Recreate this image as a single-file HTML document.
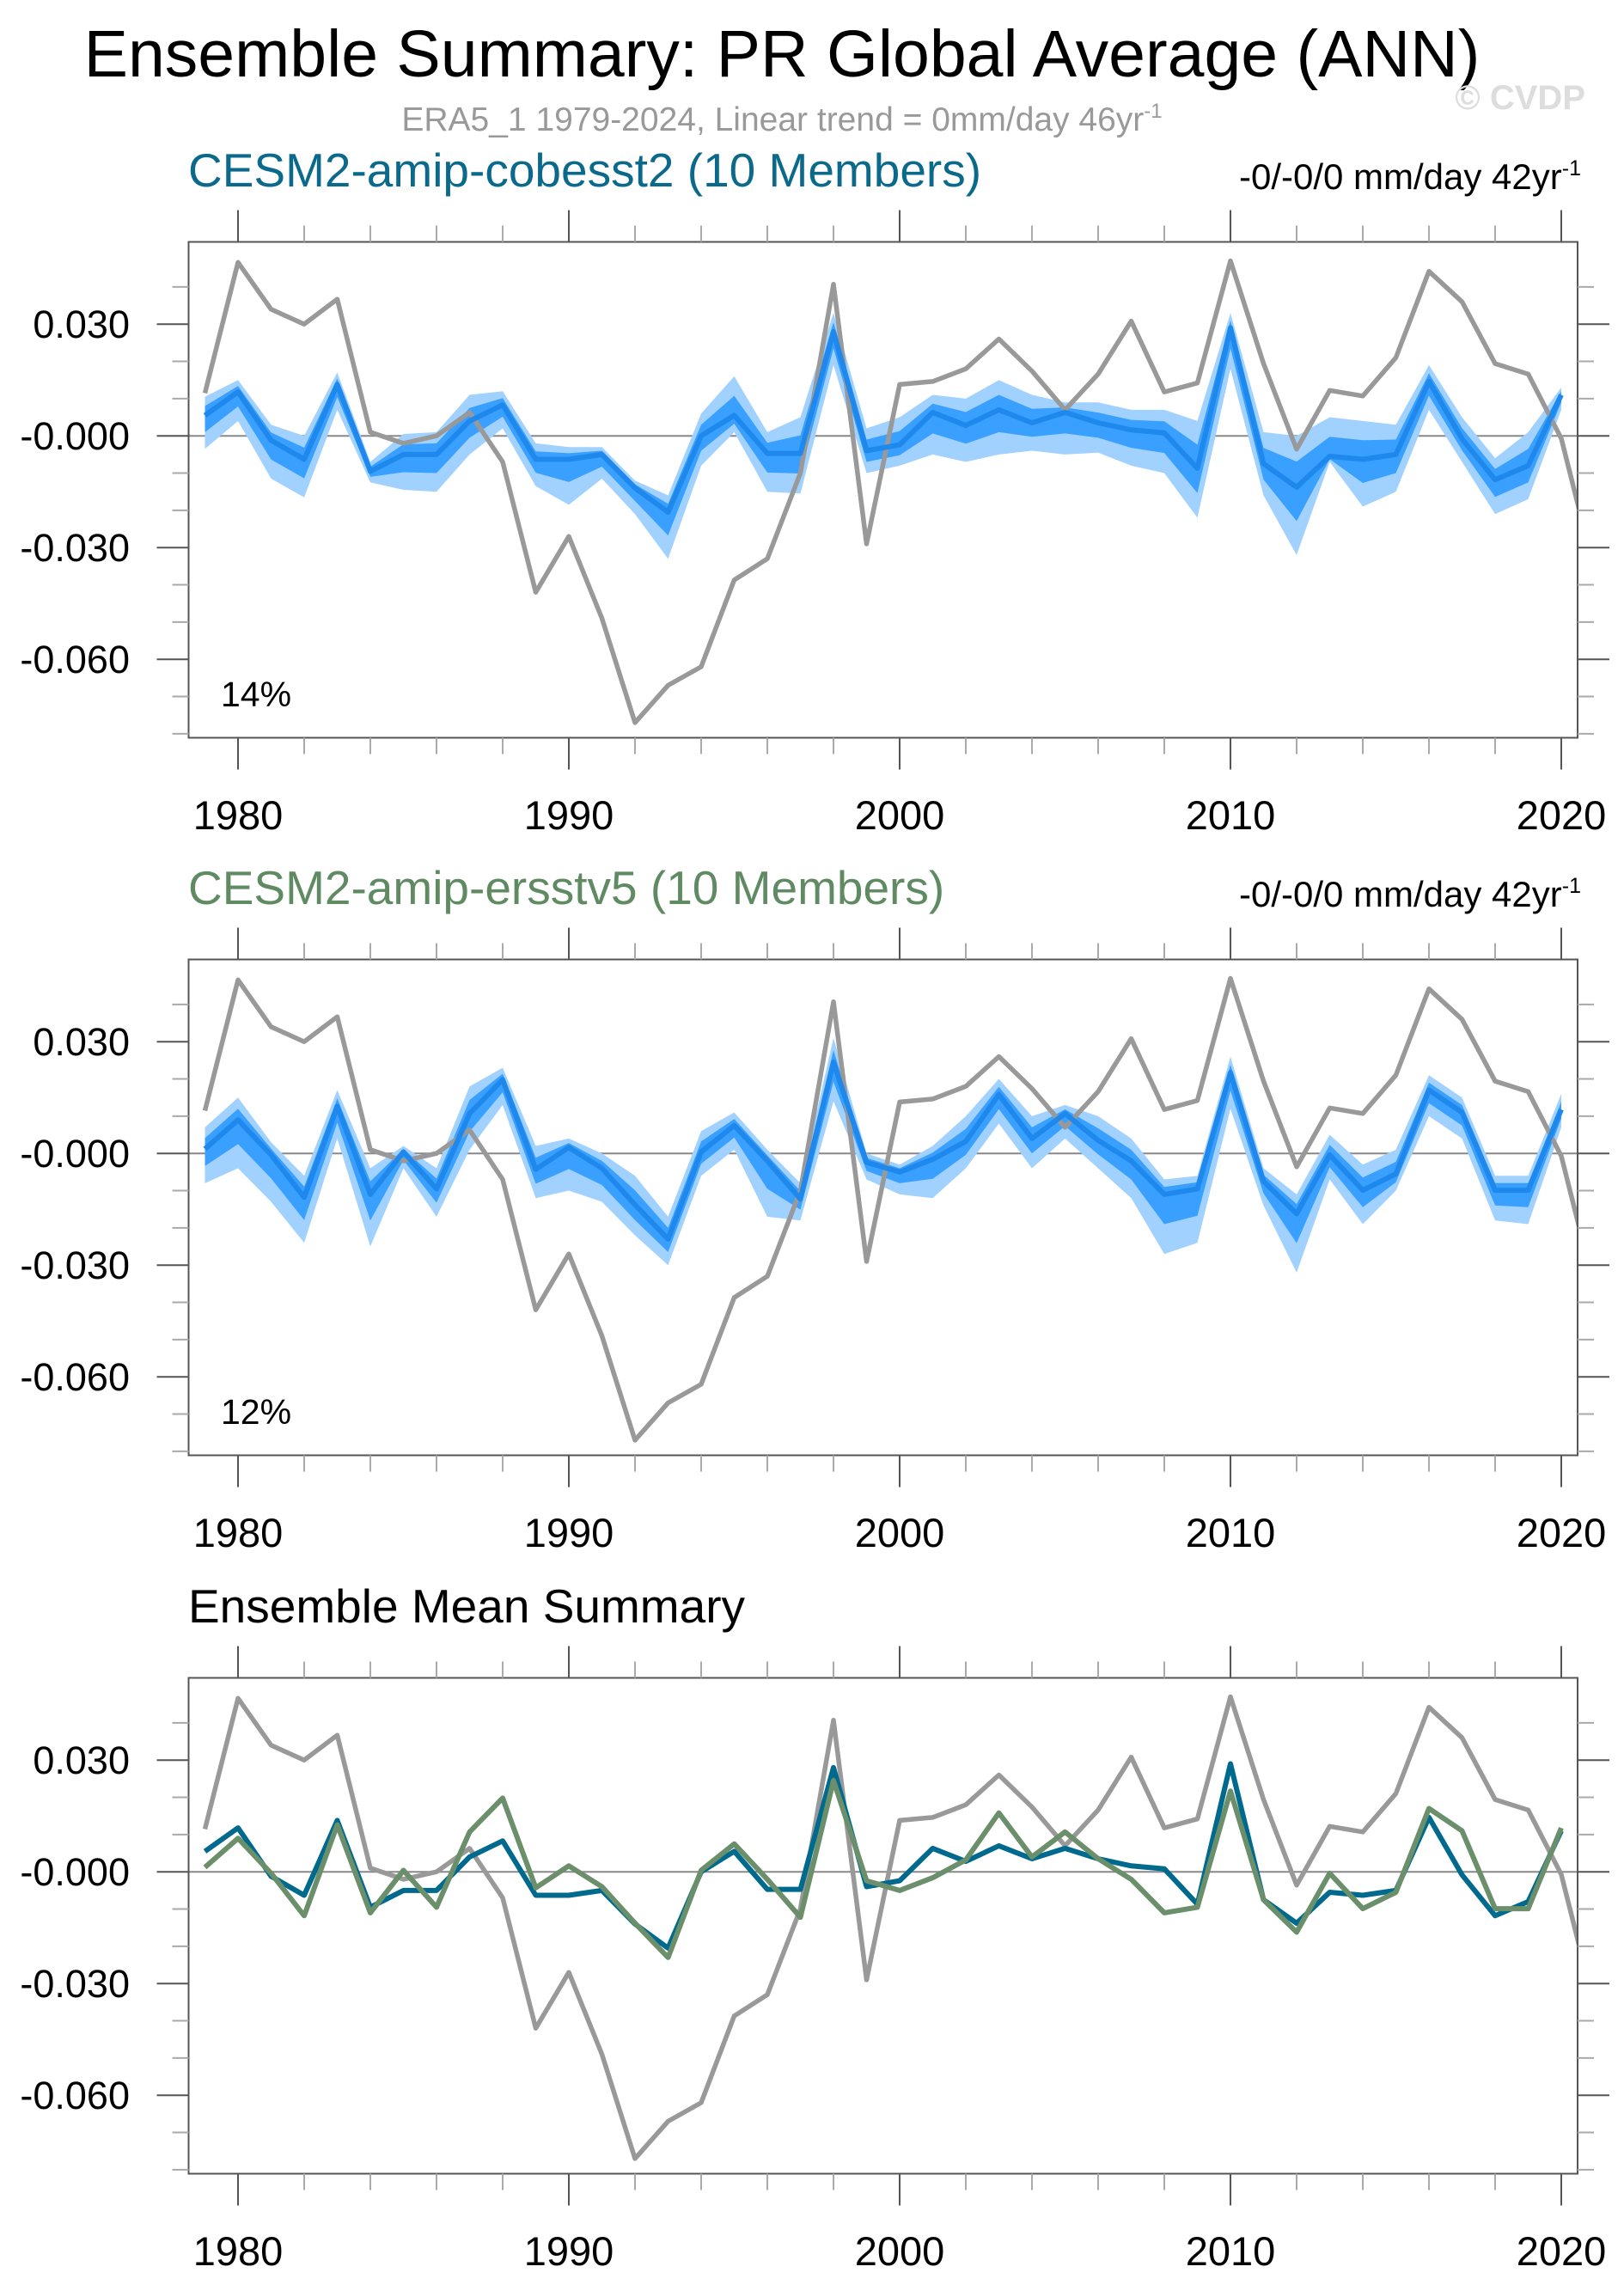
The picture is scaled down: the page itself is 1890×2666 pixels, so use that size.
<!DOCTYPE html>
<html><head><meta charset="utf-8">
<style>
html,body{margin:0;padding:0;background:#fff;}
svg{display:block;font-family:"Liberation Sans",sans-serif;}
</style></head>
<body>
<svg id="fig" width="1890" height="2666" viewBox="0 0 1890 2666" xmlns="http://www.w3.org/2000/svg">
<text x="910" y="89" font-size="77" text-anchor="middle" fill="#000">Ensemble Summary: PR Global Average (ANN)</text>
<text x="910" y="152" font-size="39" text-anchor="middle" fill="#999">ERA5_1 1979-2024, Linear trend = 0mm/day 46yr<tspan font-size="24" dy="-15">-1</tspan></text>
<text x="1845" y="127" font-size="40" font-weight="bold" text-anchor="end" fill="#ddd">© CVDP</text>
<g id="panels"></g>
</svg>
<script>
const years=[1979,1980,1981,1982,1983,1984,1985,1986,1987,1988,1989,1990,1991,1992,1993,1994,1995,1996,1997,1998,1999,2000,2001,2002,2003,2004,2005,2006,2007,2008,2009,2010,2011,2012,2013,2014,2015,2016,2017,2018,2019,2020];
const obsYears=[1979,1980,1981,1982,1983,1984,1985,1986,1987,1988,1989,1990,1991,1992,1993,1994,1995,1996,1997,1998,1999,2000,2001,2002,2003,2004,2005,2006,2007,2008,2009,2010,2011,2012,2013,2014,2015,2016,2017,2018,2019,2020,2021];
const obs=[0.0115,0.0466,0.034,0.030,0.0367,0.001,-0.002,0,0.0063,-0.007,-0.042,-0.027,-0.049,-0.077,-0.067,-0.062,-0.0387,-0.033,-0.010,0.0407,-0.029,0.0138,0.0146,0.018,0.026,0.0174,0.007,0.0166,0.0308,0.0118,0.0142,0.047,0.0194,-0.0036,0.0122,0.0107,0.021,0.0442,0.036,0.0194,0.0166,-0.0007,-0.036];
const meanA=[0.0055,0.0118,-0.0012,-0.0063,0.0138,-0.0095,-0.005,-0.005,0.004,0.0083,-0.0063,-0.0063,-0.005,-0.014,-0.0205,0,0.0055,-0.0047,-0.0047,0.028,-0.004,-0.0024,0.0063,0.0028,0.007,0.0035,0.0063,0.0035,0.0016,0.0008,-0.0087,0.029,-0.0075,-0.0138,-0.0055,-0.0063,-0.005,0.0146,-0.0008,-0.0118,-0.008,0.011];
const hiA=[0.0105,0.015,0.003,0,0.017,-0.007,0.0005,0.001,0.011,0.012,-0.002,-0.003,-0.003,-0.012,-0.016,0.006,0.016,0.001,0.005,0.033,0.002,0.005,0.011,0.010,0.015,0.011,0.009,0.009,0.007,0.007,0.004,0.033,0.001,0,0.005,0.004,0.003,0.019,0.005,-0.006,0.001,0.013];
const loA=[-0.0035,0.004,-0.0115,-0.0165,0.007,-0.0125,-0.0145,-0.015,-0.005,0.002,-0.0135,-0.0185,-0.0115,-0.021,-0.033,-0.008,0.001,-0.015,-0.0155,0.019,-0.010,-0.008,-0.005,-0.007,-0.005,-0.004,-0.005,-0.0045,-0.008,-0.010,-0.022,0.018,-0.016,-0.032,-0.007,-0.019,-0.015,0.007,-0.007,-0.021,-0.017,0.007];
const meanB=[0.0012,0.009,-0.0004,-0.0118,0.0126,-0.011,0.0004,-0.0095,0.0107,0.0198,-0.0043,0.0016,-0.004,-0.0138,-0.023,0.0004,0.0075,-0.002,-0.0122,0.0245,-0.0024,-0.005,-0.0016,0.0032,0.0158,0.004,0.0107,0.0035,-0.002,-0.011,-0.0095,0.0217,-0.0075,-0.0162,-0.0004,-0.0099,-0.0055,0.017,0.011,-0.0099,-0.0099,0.0118];
const hiB=[0.007,0.015,0.003,-0.006,0.017,-0.004,0.002,-0.004,0.018,0.023,0.002,0.004,0,-0.006,-0.017,0.006,0.011,0.001,-0.008,0.031,0,-0.003,0.002,0.010,0.020,0.010,0.013,0.010,0.004,-0.007,-0.006,0.026,-0.004,-0.011,0.005,-0.003,0.001,0.021,0.015,-0.006,-0.006,0.016];
const loB=[-0.008,-0.004,-0.013,-0.024,0.004,-0.025,-0.004,-0.017,0.001,0.013,-0.012,-0.010,-0.013,-0.022,-0.030,-0.006,0.001,-0.017,-0.018,0.014,-0.007,-0.011,-0.012,-0.004,0.008,-0.004,0.004,-0.004,-0.012,-0.027,-0.024,0.012,-0.014,-0.032,-0.007,-0.019,-0.010,0.010,0.004,-0.018,-0.019,0.007];
const yTickVals=[0.03,0,-0.03,-0.06];
const yTickLabels=["0.030","-0.000","-0.030","-0.060"];
const xTickVals=[1980,1990,2000,2010,2020];

const NS="http://www.w3.org/2000/svg";
const root=document.getElementById('panels');
const X0=219.5,X1=1836,Y0=281.5,Y1=858.5;
function xs(yr){return 238.5+(yr-1979)*38.5;}
function ysF(off){return v=>off+507.2-v/0.03*130;}
function mk(tag,attrs,parent){const e=document.createElementNS(NS,tag);for(const k in attrs)e.setAttribute(k,attrs[k]);parent.appendChild(e);return e;}
function pts(xv,yv,ys){return xv.map((x,i)=>xs(x).toFixed(1)+','+ys(yv[i]).toFixed(1)).join(' ');}
function band(lo,hi,ys){const a=years.map((x,i)=>xs(x).toFixed(1)+','+ys(hi[i]).toFixed(1));const b=years.map((x,i)=>xs(x).toFixed(1)+','+ys(lo[i]).toFixed(1)).reverse();return a.concat(b).join(' ');}

function panel(idx,off,title,titleColor,showRight,pct,series){
  const ys=ysF(off);
  const g=mk('g',{},root);
  
  
  const t=mk('text',{x:219,y:off+217,'font-size':55,fill:titleColor},g);t.textContent=title;
  
  
  if(showRight){
    const r=mk('text',{x:1840,y:off+220,'font-size':42,'text-anchor':'end',fill:'#000'},g);
    r.innerHTML='-0/-0/0 mm/day 42yr<tspan font-size="25" dy="-16">-1</tspan>';
    
    
  }
  const cid='clip'+idx;
  const cp=mk('clipPath',{id:cid},g);mk('rect',{x:X0,y:off+Y0,width:X1-X0,height:Y1-Y0},cp);
  const pg=mk('g',{'clip-path':'url(#'+cid+')'},g);
  
  
  const z=mk('line',{x1:X0,x2:X1,y1:ys(0),y2:ys(0),stroke:'#888','stroke-width':2},pg);
  
  
  series(pg,ys);
  const ax=mk('g',{stroke:'#555','stroke-width':2,fill:'none'},g);
  
  
  mk('rect',{x:X0,y:off+Y0,width:X1-X0,height:Y1-Y0},ax);
  for(let yr=1980;yr<=2020;yr+=2){
    const maj=(yr%10===0);const x=xs(yr);
    mk('line',{x1:x,x2:x,y1:off+Y0,y2:off+Y0-(maj?37:19),stroke:maj?'#555':'#aaa'},ax);
    mk('line',{x1:x,x2:x,y1:off+Y1,y2:off+Y1+(maj?37:19),stroke:maj?'#555':'#aaa'},ax);
  }
  for(let k=4;k>=-8;k--){
    const v=k*0.01;const maj=(k%3===0);const y=ys(v);
    mk('line',{x1:X0,x2:X0-(maj?37:19),y1:y,y2:y,stroke:maj?'#555':'#aaa'},ax);
    mk('line',{x1:X1,x2:X1+(maj?37:19),y1:y,y2:y,stroke:maj?'#555':'#aaa'},ax);
  }
  yTickVals.forEach((v,i)=>{const tl=mk('text',{x:151,y:ys(v)+16,'font-size':45,'text-anchor':'end',fill:'#000'},g);tl.textContent=yTickLabels[i];
    
    });
  xTickVals.forEach(v=>{const tl=mk('text',{x:xs(v),y:off+965,'font-size':47,'text-anchor':'middle',fill:'#000'},g);tl.textContent=String(v);
    
    });
  if(pct){const p=mk('text',{x:257,y:off+822,'font-size':41,fill:'#000'},g);p.textContent=pct;
    
    }
}
function obsLine(pg,ys){const l=mk('polyline',{points:pts(obsYears,obs,ys),fill:'none',stroke:'#999','stroke-width':5.5,'stroke-linejoin':'round'},pg);
  
  }
function ensemble(mean,lo,hi){
  return function(pg,ys){
    const o=mk('polygon',{points:band(lo,hi,ys),fill:'#a1d1ff'},pg);
    
    
    const ilo=mean.map((m,i)=>m-(m-lo[i])*0.5), ihi=mean.map((m,i)=>m+(hi[i]-m)*0.5);
    const inn=mk('polygon',{points:band(ilo,ihi,ys),fill:'#3aa0ff'},pg);
    
    
    obsLine(pg,ys);
    const m=mk('polyline',{points:pts(years,mean,ys),fill:'none',stroke:'#1e88ec','stroke-width':6,'stroke-linejoin':'round'},pg);
    
    
  };
}
panel(0,0,'CESM2-amip-cobesst2 (10 Members)','#0b6a8c',true,'14%',ensemble(meanA,loA,hiA));
panel(1,835,'CESM2-amip-ersstv5 (10 Members)','#5f8a62',true,'12%',ensemble(meanB,loB,hiB));
panel(2,1671,'Ensemble Mean Summary','#000',false,null,function(pg,ys){
  obsLine(pg,ys);
  const a=mk('polyline',{points:pts(years,meanA,ys),fill:'none',stroke:'#006a8e','stroke-width':6,'stroke-linejoin':'round'},pg);
  
  
  const b=mk('polyline',{points:pts(years,meanB,ys),fill:'none',stroke:'#6a8f6a','stroke-width':6,'stroke-linejoin':'round'},pg);
  
  
});
</script>
</body></html>
